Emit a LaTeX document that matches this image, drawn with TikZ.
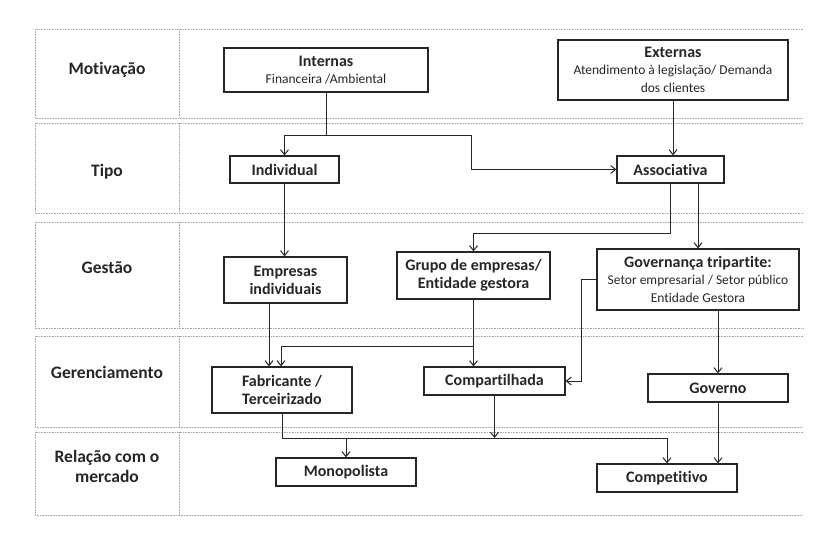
\documentclass[tikz,border=0pt]{standalone}
\usepackage{fontspec}
\setmainfont{Carlito}[Ligatures=NoCommon]
\usetikzlibrary{arrows.meta}
\definecolor{ink}{HTML}{262626}
\definecolor{bandline}{HTML}{A8A8A8}
\newcommand{\subtxt}{\mdseries\fontsize{13.5}{15.5}\selectfont}
\tikzset{
  box/.style={draw=ink, line width=1.2pt, text=ink, inner sep=0pt, align=center, font=\bfseries\fontsize{16}{18}\selectfont},
  rowlabel/.style={text=ink, align=center, font=\bfseries\fontsize{17.5}{20}\selectfont},
  conn/.style={draw=ink, line width=1pt},
  arr/.style={conn, -{Straight Barb[length=5pt,width=8pt,line width=1pt]}},
  band/.style={draw=bandline, line width=0.8pt, dash pattern=on 0.8pt off 0.8pt}
}
\begin{document}
\begin{tikzpicture}[x=1pt,y=-1pt]
\useasboundingbox (0,0) rectangle (827,548);
% bands
\foreach \t/\b in {29/118,123/213,222/328,336/427,432/515}{
  \draw[band] (803,\t) -- (35,\t) -- (35,\b) -- (803,\b);
  \draw[band] (179,\t) -- (179,\b);
}
% row labels
\node[rowlabel] (r1) at (107,70) {Motivação};
\node[rowlabel] (r2) at (107,172) {Tipo};
\node[rowlabel] (r3) at (107,268) {Gestão};
\node[rowlabel] (r4) at (107,372) {Gerenciamento};
\node[rowlabel] (r5) at (107,466) {Relação com o\\mercado};
% nodes
\node[box, minimum width=204pt, minimum height=44pt] (int) at (326,70) {Internas\\[-1pt]{\subtxt Financeira /Ambiental}};
\node[box, minimum width=230pt, minimum height=60pt] (ext) at (673,70) {Externas\\[-1pt]{\subtxt Atendimento à legislação/ Demanda}\\{\subtxt dos clientes}};
\node[box, minimum width=109pt, minimum height=27pt] (ind) at (284.5,169.5) {Individual};
\node[box, minimum width=107pt, minimum height=27pt] (ass) at (670.5,169.5) {Associativa};
\node[box, minimum width=123pt, minimum height=46pt] (emp) at (285.5,280) {Empresas\\individuais};
\node[box, minimum width=153pt, minimum height=47pt] (grp) at (473.5,275.5) {Grupo de empresas/\\Entidade gestora};
\node[box, minimum width=202pt, minimum height=61pt] (gov) at (698,279.5) {Governança tripartite:\\[-1pt]{\subtxt Setor empresarial / Setor público}\\{\subtxt Entidade Gestora}};
\node[box, minimum width=140pt, minimum height=46pt] (fab) at (282,390) {Fabricante /\\Terceirizado};
\node[box, minimum width=141pt, minimum height=28pt] (com) at (494.5,381) {Compartilhada};
\node[box, minimum width=140pt, minimum height=28pt] (gvn) at (718,388) {Governo};
\node[box, minimum width=140pt, minimum height=28pt] (mon) at (346,472) {Monopolista};
\node[box, minimum width=140pt, minimum height=28pt] (cmp) at (667,478) {Competitivo};
% junction coordinates
\coordinate (j1) at (326,136);
\coordinate (j2) at (471,136);
\coordinate (j3) at (670.5,233);
\coordinate (j4) at (473.5,346);
\coordinate (j5) at (581,279.5);
\coordinate (j6) at (282,438);
\coordinate (j7) at (346,438);
\coordinate (j8) at (494.5,438);
% connectors
\draw[conn] (int.south) -- (j1);
\draw[arr] (j1) -| (ind.north);
\draw[arr] (j1) -- (j2) |- (ass.west);
\draw[arr] (ext.south) -- (ext.south |- ass.north);
\draw[arr] (ass.south) -- (j3) -| (grp.north);
\draw[arr] (gov.north |- ass.south) -- (gov.north);
\draw[arr] (ind.south) -- (ind.south |- emp.north);
\draw[arr] ([xshift=-16.5pt]emp.south) -- ([xshift=-16.5pt]emp.south |- fab.north);
\draw[arr] (grp.south) -- (grp.south |- com.north);
\draw[arr] (j4) -| ([xshift=-1pt]fab.north);
\draw[arr] (gov.west) -- (j5) |- (com.east);
\draw[arr] (gvn.north |- gov.south) -- (gvn.north);
\draw[conn] (fab.south) -- (j6) -- (j7);
\draw[arr] (j7) -- (mon.north);
\draw[arr] (com.south) -- (j8);
\draw[arr] (j7) -| (cmp.north);
\draw[arr] (gvn.south) -- (gvn.south |- cmp.north);
\end{tikzpicture}
\end{document}
